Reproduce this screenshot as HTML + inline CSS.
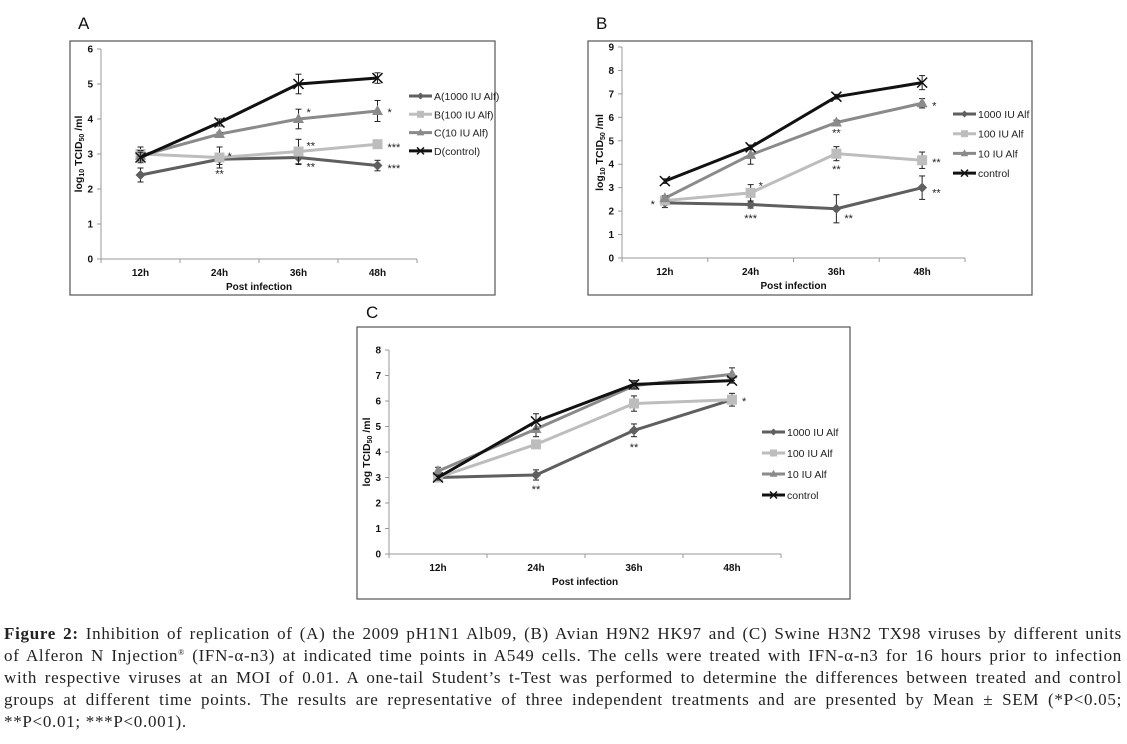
<!DOCTYPE html>
<html><head><meta charset="utf-8"><style>
body{margin:0;background:#fff;width:1127px;height:744px;overflow:hidden;position:relative;font-family:"Liberation Sans",sans-serif}
svg{position:absolute;left:0;top:0}
.cap{position:absolute;left:4px;width:1118px;font-family:"Liberation Serif",serif;font-size:17px;letter-spacing:0.7px;color:#222;text-align:justify;text-align-last:justify;white-space:nowrap;line-height:20px;height:20px}
.cap.last{text-align-last:left}
.cap sup{font-size:8px;line-height:0;vertical-align:6px}
</style></head><body>
<svg id="fig" width="1127" height="620"></svg>
<div class="cap" style="top:624px"><b>Figure 2:</b> Inhibition of replication of (A) the 2009 pH1N1 Alb09, (B) Avian H9N2 HK97 and (C) Swine H3N2 TX98 viruses by different units</div>
<div class="cap" style="top:646px">of Alferon N Injection<sup>®</sup> (IFN-α-n3) at indicated time points in A549 cells. The cells were treated with IFN-α-n3 for 16 hours prior to infection</div>
<div class="cap" style="top:668px">with respective viruses at an MOI of 0.01. A one-tail Student’s t-Test was performed to determine the differences between treated and control</div>
<div class="cap" style="top:690px">groups at different time points. The results are representative of three independent treatments and are presented by Mean ± SEM (*P&lt;0.05;</div>
<div class="cap last" style="top:712px">**P&lt;0.01; ***P&lt;0.001).</div>
<script>
const categories=["12h","24h","36h","48h"];
// Chart A
const aNames=["A(1000 IU Alf)","B(100 IU Alf)","C(10 IU Alf)","D(control)"];
const aS1=[2.4,2.85,2.9,2.67], aE1=[0.2,0.15,0.2,0.15];
const aS2=[3.0,2.9,3.07,3.28], aE2=[0.2,0.3,0.35,0.12];
const aS3=[2.95,3.57,4.0,4.23], aE3=[0.15,0.05,0.28,0.3];
const aS4=[2.9,3.9,5.0,5.17], aE4=[0.15,0.1,0.28,0.15];
const aTicks=[0,1,2,3,4,5,6];
const aStars=[[1,2.95,"*",1],[1,2.45,"**",0],[2,4.2,"*",1],[2,3.25,"**",1],[2,2.65,"**",1],[3,4.2,"*",2],[3,3.2,"***",2],[3,2.6,"***",2]];
// Chart B
const bNames=["1000 IU Alf","100 IU Alf","10 IU Alf","control"];
const bS1=[2.35,2.28,2.1,3.0], bE1=[0.2,0.15,0.6,0.5];
const bS2=[2.45,2.78,4.45,4.17], bE2=[0.1,0.35,0.3,0.35];
const bS3=[2.55,4.4,5.78,6.6], bE3=[0.1,0.4,0.1,0.2];
const bS4=[3.28,4.72,6.88,7.48], bE4=[0.1,0.1,0.1,0.3];
const bTicks=[0,1,2,3,4,5,6,7,8,9];
const bStars=[[0,2.3,"*",3],[1,3.1,"*",1],[1,1.7,"***",0],[2,5.35,"**",0],[2,3.8,"**",0],[2,1.7,"**",1],[3,6.5,"*",2],[3,4.1,"**",2],[3,2.8,"**",2]];
// Chart C
const cNames=["1000 IU Alf","100 IU Alf","10 IU Alf","control"];
const cS1=[3.0,3.1,4.85,6.05], cE1=[0.05,0.2,0.25,0.1];
const cS2=[3.0,4.3,5.9,6.05], cE2=[0.05,0.05,0.3,0.25];
const cS3=[3.25,4.9,6.6,7.05], cE3=[0.15,0.3,0.15,0.25];
const cS4=[3.0,5.2,6.65,6.8], cE4=[0.1,0.3,0.15,0.1];
const cTicks=[0,1,2,3,4,5,6,7,8];
const cStars=[[1,2.55,"**",0],[2,4.2,"**",0],[3,6.0,"*",2]];

const colors=["#5f5f5f","#bdbdbd","#8a8a8a","#111"];
const NS="http://www.w3.org/2000/svg";
const svg=document.getElementById('fig');
function mk(tag,attrs,parent,text){const e=document.createElementNS(NS,tag);for(const k in attrs)e.setAttribute(k,attrs[k]);if(text!==undefined)e.textContent=text;(parent||svg).appendChild(e);return e;}

function chart(cfg){
  const g=mk('g',{});
  
  
  const fr=mk('rect',{x:cfg.fx,y:cfg.fy,width:cfg.fw,height:cfg.fh,fill:'#fff',stroke:'#555','stroke-width':1.2},g);
  
  
  const pl=mk('text',{x:cfg.lx,y:cfg.ly,'font-size':17,fill:'#111'},g,cfg.letter);
  
  
  const ymax=cfg.ticks[cfg.ticks.length-1];
  const Y=v=>cfg.y0-(v/ymax)*(cfg.y0-cfg.ytop);
  const cw=(cfg.xend-cfg.x0)/categories.length;
  const X=i=>cfg.x0+cw*(i+0.5);
  mk('line',{x1:cfg.x0,y1:cfg.ytop,x2:cfg.x0,y2:cfg.y0,stroke:'#999'},g);
  mk('line',{x1:cfg.x0,y1:cfg.y0,x2:cfg.xend,y2:cfg.y0,stroke:'#999'},g);
  cfg.ticks.forEach(t=>{
    mk('line',{x1:cfg.x0-4,y1:Y(t),x2:cfg.x0,y2:Y(t),stroke:'#999'},g);
    const tl=mk('text',{x:cfg.x0-8,y:Y(t)+3.5,'font-size':10,'font-weight':'bold','text-anchor':'end',fill:'#111'},g,t);
    
    
  });
  for(let i=0;i<=categories.length;i++)mk('line',{x1:cfg.x0+cw*i,y1:cfg.y0,x2:cfg.x0+cw*i,y2:cfg.y0+4,stroke:'#999'},g);
  categories.forEach((c,i)=>{
    const tl=mk('text',{x:X(i),y:cfg.y0+17,'font-size':10,'font-weight':'bold','text-anchor':'middle',fill:'#111'},g,c);
    
    
  });
  const xt=mk('text',{x:(cfg.x0+cfg.xend)/2,y:cfg.y0+31,'font-size':10,'font-weight':'bold','text-anchor':'middle',fill:'#111'},g,'Post infection');
  
  
  const ym=(cfg.y0+cfg.ytop)/2;
  const yt=mk('text',{transform:`translate(${cfg.x0-19},${ym}) rotate(-90)`,'font-size':10.5,'font-weight':'bold','text-anchor':'middle',fill:'#111'},g);
  yt.innerHTML=cfg.ylab;
  
  
  cfg.series.forEach((s,k)=>{
    const sg=mk('g',{},g);
    
    
    const col=colors[k];
    mk('polyline',{points:s.map((v,i)=>X(i)+','+Y(v)).join(' '),fill:'none',stroke:col,'stroke-width':3,'stroke-linejoin':'round'},sg);
    s.forEach((v,i)=>{
      const e=cfg.errs[k][i];
      mk('line',{x1:X(i),y1:Y(v-e),x2:X(i),y2:Y(v+e),stroke:'#222','stroke-width':1},sg);
      mk('line',{x1:X(i)-3,y1:Y(v-e),x2:X(i)+3,y2:Y(v-e),stroke:'#222','stroke-width':1},sg);
      mk('line',{x1:X(i)-3,y1:Y(v+e),x2:X(i)+3,y2:Y(v+e),stroke:'#222','stroke-width':1},sg);
      const m=marker(k,X(i),Y(v),sg,1);
      
      
    });
  });
  cfg.stars.forEach(st=>{
    const dx=st[3]===0?0:(st[3]===1?8:(st[3]===2?10:-10));
    const t=mk('text',{x:X(st[0])+dx,y:Y(st[1])+4,'font-size':11,'text-anchor':st[3]===0?'middle':(st[3]===3?'end':'start'),fill:'#222'},g,st[2]);
    
    
  });
  cfg.names.forEach((n,k)=>{
    const lg=mk('g',{},g);
    
    
    const yy=cfg.legY+k*cfg.legDy;
    mk('line',{x1:cfg.legX,y1:yy,x2:cfg.legX+23,y2:yy,stroke:colors[k],'stroke-width':3},lg);
    marker(k,cfg.legX+11.5,yy,lg,0.7);
    mk('text',{x:cfg.legX+25,y:yy+4,'font-size':10.5,fill:'#222'},lg,n);
  });
}
function marker(k,x,y,p,s){
  const c=colors[k];
  if(k===0)return mk('polygon',{points:`${x},${y-5*s} ${x+5*s},${y} ${x},${y+5*s} ${x-5*s},${y}`,fill:c},p);
  if(k===1)return mk('rect',{x:x-5*s,y:y-5*s,width:10*s,height:10*s,fill:c},p);
  if(k===2)return mk('polygon',{points:`${x},${y-6*s} ${x+5.5*s},${y+4*s} ${x-5.5*s},${y+4*s}`,fill:c},p);
  return mk('path',{d:`M${x-5*s},${y-5*s}L${x+5*s},${y+5*s}M${x+5*s},${y-5*s}L${x-5*s},${y+5*s}`,stroke:c,'stroke-width':1.5},p);
}
const sub='TCID<tspan font-size="7" dy="2">50</tspan><tspan dy="-2"> /ml</tspan>';
chart({id:'chart-a',letter:'A',lx:78,ly:29,fx:70,fy:41,fw:425,fh:254,x0:101,xend:417,y0:259,ytop:49,ticks:aTicks,
  series:[aS1,aS2,aS3,aS4],errs:[aE1,aE2,aE3,aE4],names:aNames,stars:aStars,legX:409,legY:96,legDy:18.3,
  ylab:'log<tspan font-size="7" dy="2">10</tspan><tspan dy="-2"> </tspan>'+sub});
chart({id:'chart-b',letter:'B',lx:596,ly:29,fx:588,fy:41,fw:444,fh:254,x0:622,xend:965,y0:258,ytop:47,ticks:bTicks,
  series:[bS1,bS2,bS3,bS4],errs:[bE1,bE2,bE3,bE4],names:bNames,stars:bStars,legX:953,legY:114,legDy:19.7,
  ylab:'log<tspan font-size="7" dy="2">10</tspan><tspan dy="-2"> </tspan>'+sub});
chart({id:'chart-c',letter:'C',lx:366,ly:318,fx:357,fy:327,fw:493,fh:272,x0:389,xend:781,y0:554,ytop:350,ticks:cTicks,
  series:[cS1,cS2,cS3,cS4],errs:[cE1,cE2,cE3,cE4],names:cNames,stars:cStars,legX:762,legY:432,legDy:21,
  ylab:'log '+sub});
</script>
</body></html>
